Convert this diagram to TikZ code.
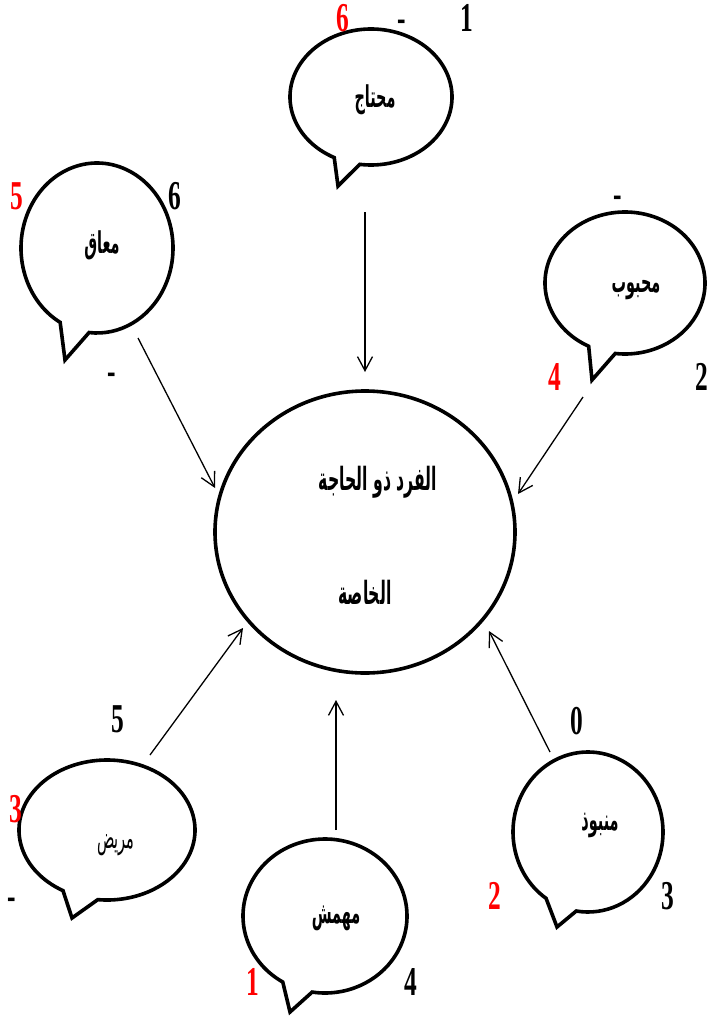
\documentclass[tikz,border=0pt]{standalone}
\usepackage{fontspec}
\setmainfont{Liberation Serif}
\newfontfamily\arabicfont[Script=Arabic]{DejaVu Sans}
\TeXXeTstate=1
\usetikzlibrary{arrows.meta,shapes.geometric}

% numbers beside the callouts: condensed bold serif digits
\newcommand{\nm}[2]{\textcolor{#1}{\scalebox{0.62}[1]{\fontsize{41}{41}\selectfont\bfseries #2}}}
% Arabic words: #1 horizontal squeeze, #2 size, #3 text
\newcommand{\arw}[3]{\scalebox{#1}[1]{\arabicfont\bfseries\fontsize{#2}{#2}\selectfont #3}}

\tikzset{
  bubble/.style={draw=black, line width=3.6pt, line join=miter},
  link/.style={draw=black, line width=1.3pt,
    -{Straight Barb[length=14pt,width=15pt,line width=1.3pt]}},
  lbl/.style={inner sep=0pt, outer sep=0pt},
}

% callout: name, centre, x radius, y radius, left tail angle, right tail angle, tail tip
\newcommand{\callout}[7]{%
  \node[lbl, minimum width=2*#3 pt, minimum height=2*#4 pt] (#1) at (#2) {};
  \draw[bubble] (#1.center) ++(#5:#3 and #4)
    arc[start angle=#5, end angle={#6+360}, x radius=#3, y radius=#4]
    -- (#7) -- cycle;
}

\begin{document}
\begin{tikzpicture}[x=1pt, y=-1pt]
  \fill[white] (0,0) rectangle (709,1017);
  \useasboundingbox (0,0) rectangle (709,1017);

  % central figure
  \node[draw=black, line width=3.6pt, ellipse, inner sep=0pt,
        minimum width=300pt, minimum height=282pt] (core) at (365,532) {};
  \node[lbl] (core1) at (378,482) {\arw{0.49}{32}{\beginR الفرد ذو الحاجة\endR}};
  \node[lbl] (core2) at (365,592) {\arw{0.49}{32}{\beginR الخاصة\endR}};

  % the six callouts
  \callout{b1}{371,97}{81}{68}{117}{98}{338,186}
  \callout{b2}{97,248}{76}{85}{119}{96}{65,360}
  \callout{b3}{625,283}{80}{71}{117}{97}{592,380}
  \callout{b4}{107,830}{88}{70}{120}{96}{72,918}
  \callout{b5}{325,916}{82}{77}{121}{99}{290,1012}
  \callout{b6}{588,832}{75}{80}{124}{99}{557,927}

  \node[lbl] (t1) at (375,100) {\arw{0.48}{30}{\beginR محتاج\endR}};
  \node[lbl] (t2) at (102,245) {\arw{0.48}{30}{\beginR معاق\endR}};
  \node[lbl] (t3) at (636,290) {\arw{0.48}{30}{\beginR محبوب\endR}};
  \node[lbl] (t4) at (116,845) {\scalebox{0.48}[1]{\arabicfont\fontsize{30}{30}\selectfont\beginR مريض\endR}};
  \node[lbl] (t5) at (336,918) {\arw{0.48}{30}{\beginR مهمش\endR}};
  \node[lbl] (t6) at (600,825) {\arw{0.48}{30}{\beginR منبوذ\endR}};

  % numbers
  \node[lbl] (n11) at (343,18) {\nm{red}{6}};
  \node[lbl] (n12) at (402,26) {\nm{black}{-}};
  \node[lbl] (n13) at (467,18) {\nm{black}{1}};

  \node[lbl] (n21) at (17,196) {\nm{red}{5}};
  \node[lbl] (n22) at (175,196) {\nm{black}{6}};
  \node[lbl] (n23) at (112,379) {\nm{black}{-}};

  \node[lbl] (n31) at (618,202) {\nm{black}{-}};
  \node[lbl] (n32) at (555,377) {\nm{red}{4}};
  \node[lbl] (n33) at (702,377) {\nm{black}{2}};

  \node[lbl] (n41) at (118,719) {\nm{black}{5}};
  \node[lbl] (n42) at (16,809) {\nm{red}{3}};
  \node[lbl] (n43) at (12,904) {\nm{black}{-}};

  \node[lbl] (n51) at (253,982) {\nm{red}{1}};
  \node[lbl] (n52) at (411,982) {\nm{black}{4}};

  \node[lbl] (n61) at (577,721) {\nm{black}{0}};
  \node[lbl] (n62) at (495,896) {\nm{red}{2}};
  \node[lbl] (n63) at (668,896) {\nm{black}{3}};

  % connectors towards the central figure
  \coordinate (s1) at (365,212);  \coordinate (e1) at (365,372);
  \coordinate (s2) at (138,338);  \coordinate (e2) at (215,488);
  \coordinate (s3) at (583,397);  \coordinate (e3) at (518,494);
  \coordinate (s4) at (150,755);  \coordinate (e4) at (243,628);
  \coordinate (s5) at (336,830);  \coordinate (e5) at (336,700);
  \coordinate (s6) at (550,752);  \coordinate (e6) at (489,631);
  \foreach \i in {1,...,6} { \draw[link] (s\i) -- (e\i); }
\end{tikzpicture}
\end{document}
